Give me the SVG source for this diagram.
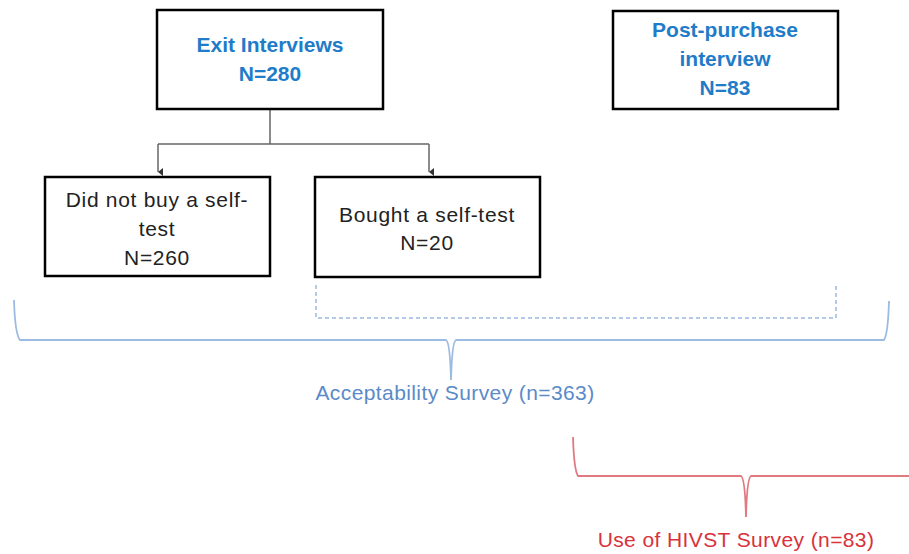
<svg xmlns="http://www.w3.org/2000/svg" width="909" height="554" viewBox="0 0 909 554">
<defs>
<marker id="arr" markerWidth="8" markerHeight="8" refX="4" refY="6" orient="auto-start-reverse" markerUnits="userSpaceOnUse" viewBox="0 0 8 8">
<path d="M0,1 L8,1 L4,6 Z" fill="#333"/>
</marker>
</defs>
<style>
.box{fill:#fff;stroke:#000;stroke-width:2.5}
.t{font-family:"Liberation Sans",Arial,sans-serif;font-size:21px;text-anchor:middle}
.blue{fill:#1f7cc9;font-weight:bold}
.dark{fill:#222;letter-spacing:0.7px}
.conn{fill:none;stroke:#666;stroke-width:1.5}
.dash{fill:none;stroke:#9bb8df;stroke-width:1.5;stroke-dasharray:4 3}
.bbrace{fill:none;stroke:#9cbbe3;stroke-width:1.8}
.rbrace{fill:none;stroke:#e07a80;stroke-width:1.8}
</style>
<rect width="909" height="554" fill="#fff"/>
<g id="connectors">
<path class="conn" d="M270,109 V144 M158,144 H429"/>
<path class="conn" d="M158,144 V172" marker-end="url(#arr)"/>
<path class="conn" d="M429,144 V172" marker-end="url(#arr)"/>
</g>
<g id="exit">
<rect class="box" x="157" y="10" width="226" height="99"/>
<text class="t blue" x="270" y="52">Exit Interviews</text>
<text class="t blue" x="270" y="81">N=280</text>
</g>
<g id="post">
<rect class="box" x="613" y="11" width="225" height="98"/>
<text class="t blue" x="725" y="37">Post-purchase</text>
<text class="t blue" x="725" y="66">interview</text>
<text class="t blue" x="725" y="95">N=83</text>
</g>
<g id="notbuy">
<rect class="box" x="45" y="177" width="225" height="99"/>
<text class="t dark" x="157" y="207">Did not buy a self-</text>
<text class="t dark" x="157" y="236">test</text>
<text class="t dark" x="157" y="265">N=260</text>
</g>
<g id="bought">
<rect class="box" x="315" y="177" width="225" height="100"/>
<text class="t dark" x="427" y="222">Bought a self-test</text>
<text class="t dark" x="427" y="250">N=20</text>
</g>
<g id="brackets">
<path class="dash" d="M316,285 V318 H836 V285"/>
<path class="bbrace" d="M14,300 Q15,334 20,340 H446 Q450,342 451,380 Q452,342 456,340 H884 Q888,334 889,301"/>
<path class="rbrace" d="M573,437 Q574,470 578,476 H741 Q745,478 746,517 Q747,478 751,476 H909"/>
</g>
<g id="labels">
<text class="t" x="455" y="400" style="fill:#5b8ac8;font-size:21px;letter-spacing:0.4px">Acceptability Survey (n=363)</text>
<text class="t" x="736" y="547" style="fill:#d8323c;font-size:21px;letter-spacing:0.4px">Use of HIVST Survey (n=83)</text>
</g>
</svg>
